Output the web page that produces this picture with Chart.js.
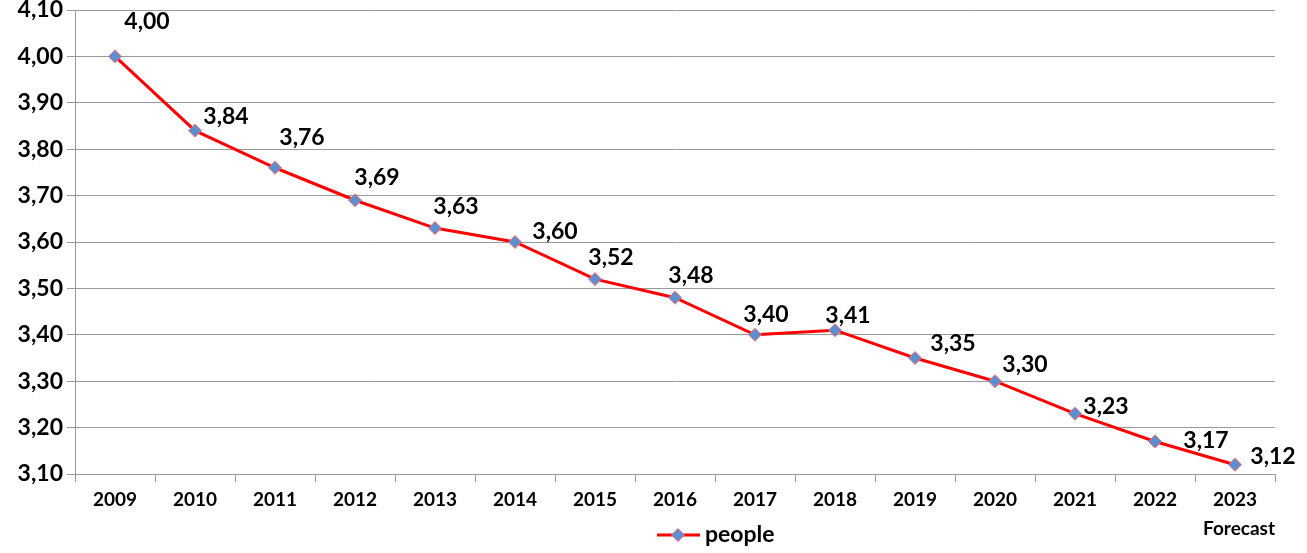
<!DOCTYPE html>
<html>
<head>
<meta charset="utf-8">
<script src="https://cdn.jsdelivr.net/npm/chart.js@4/dist/chart.umd.min.js"></script>
<style>
  html, body { margin: 0; padding: 0; background: #fff; }
  #wrap { width: 1307px; height: 553px; }
</style>
</head>
<body>
<div id="wrap"><canvas id="chart" width="1307" height="553"></canvas></div>
<script>
const years = ['2009', '2010', '2011', '2012', '2013', '2014', '2015', '2016',
  '2017', '2018', '2019', '2020', '2021', '2022', '2023'];
const people = [4.00, 3.84, 3.76, 3.69, 3.63, 3.60, 3.52, 3.48, 3.40, 3.41, 3.35, 3.30, 3.23, 3.17, 3.12];
const yMin = 3.10, yMax = 4.10, yStep = 0.10;

// where Excel put each value label, relative to its point (px)
const labelShift = [[32, -35], [31, -14], [27, -30], [22, -23], [21, -22], [40, -10], [16, -22], [16, -22],
  [11, -20], [13, -15], [38, -14], [30, -17], [31, -7], [51, -1], [38, -8]];

const FONT = 'Lato, "Liberation Sans", sans-serif';
const fmt = v => v.toFixed(2).replace('.', ',');

function diamond(c, x, y, r) {
  c.fillStyle = '#5b8fd0'; c.strokeStyle = '#ff6a6a'; c.lineWidth = 1;
  c.beginPath(); c.moveTo(x, y - r); c.lineTo(x + r, y); c.lineTo(x, y + r); c.lineTo(x - r, y); c.closePath();
  c.fill(); c.stroke();
}

const extras = {
  id: 'extras',
  afterDatasetsDraw(chart) {
    const ctx = chart.ctx;
    const meta = chart.getDatasetMeta(0);
    ctx.save();
    ctx.font = 'bold 23px ' + FONT;
    ctx.fillStyle = '#000';
    ctx.textAlign = 'center';
    ctx.textBaseline = 'middle';
    meta.data.forEach((pt, i) => {
      const s = labelShift[i];
      ctx.fillText(fmt(people[i]), pt.x + s[0], pt.y + s[1]);
    });
    // "Forecast" under the last year
    ctx.font = 'bold 19px ' + FONT;
    ctx.textAlign = 'right';
    ctx.fillText('Forecast', chart.chartArea.right, 529);

    // legend: red line with a diamond, then the series name
    const ly = 535;
    ctx.strokeStyle = '#ff0000'; ctx.lineWidth = 3;
    ctx.beginPath(); ctx.moveTo(657, ly); ctx.lineTo(700, ly); ctx.stroke();
    diamond(ctx, 678, ly, 6.5);
    ctx.font = 'bold 23px ' + FONT;
    ctx.textAlign = 'left';
    ctx.fillStyle = '#000';
    ctx.fillText(chart.data.datasets[0].label, 705, ly);
    ctx.restore();
  }
};

new Chart(document.getElementById('chart'), {
  type: 'line',
  data: {
    labels: years,
    datasets: [{
      label: 'people',
      data: people,
      borderColor: '#ff0000',
      borderWidth: 3,
      tension: 0,
      pointStyle: 'rectRot',
      pointRadius: 6.5,
      pointHoverRadius: 6.5,
      pointBackgroundColor: '#5b8fd0',
      pointBorderColor: '#ff6a6a',
      pointBorderWidth: 1
    }]
  },
  options: {
    responsive: false,
    animation: false,
    layout: { padding: { top: 0, right: 32, left: 0, bottom: 0 } },
    plugins: {
      tooltip: { enabled: false },
      legend: { display: false }
    },
    scales: {
      x: {
        offset: true,
        grid: { offset: true, drawOnChartArea: false, color: '#999', tickLength: 8 },
        border: { color: '#999' },
        ticks: { color: '#000', font: { family: FONT, size: 19, weight: 'bold' }, padding: 6, maxRotation: 0 },
        afterFit(scale) { scale.height = 79; }
      },
      y: {
        min: yMin,
        max: yMax,
        grid: { color: '#999', tickLength: 8 },
        border: { color: '#999' },
        ticks: {
          stepSize: yStep,
          color: '#000',
          font: { family: FONT, size: 23, weight: 'bold' },
          padding: 4,
          callback: v => fmt(v)
        },
        afterFit(scale) { scale.width = 75; scale.paddingTop = 10; scale.paddingBottom = 0; }
      }
    }
  },
  plugins: [extras]
});
</script>
</body>
</html>
